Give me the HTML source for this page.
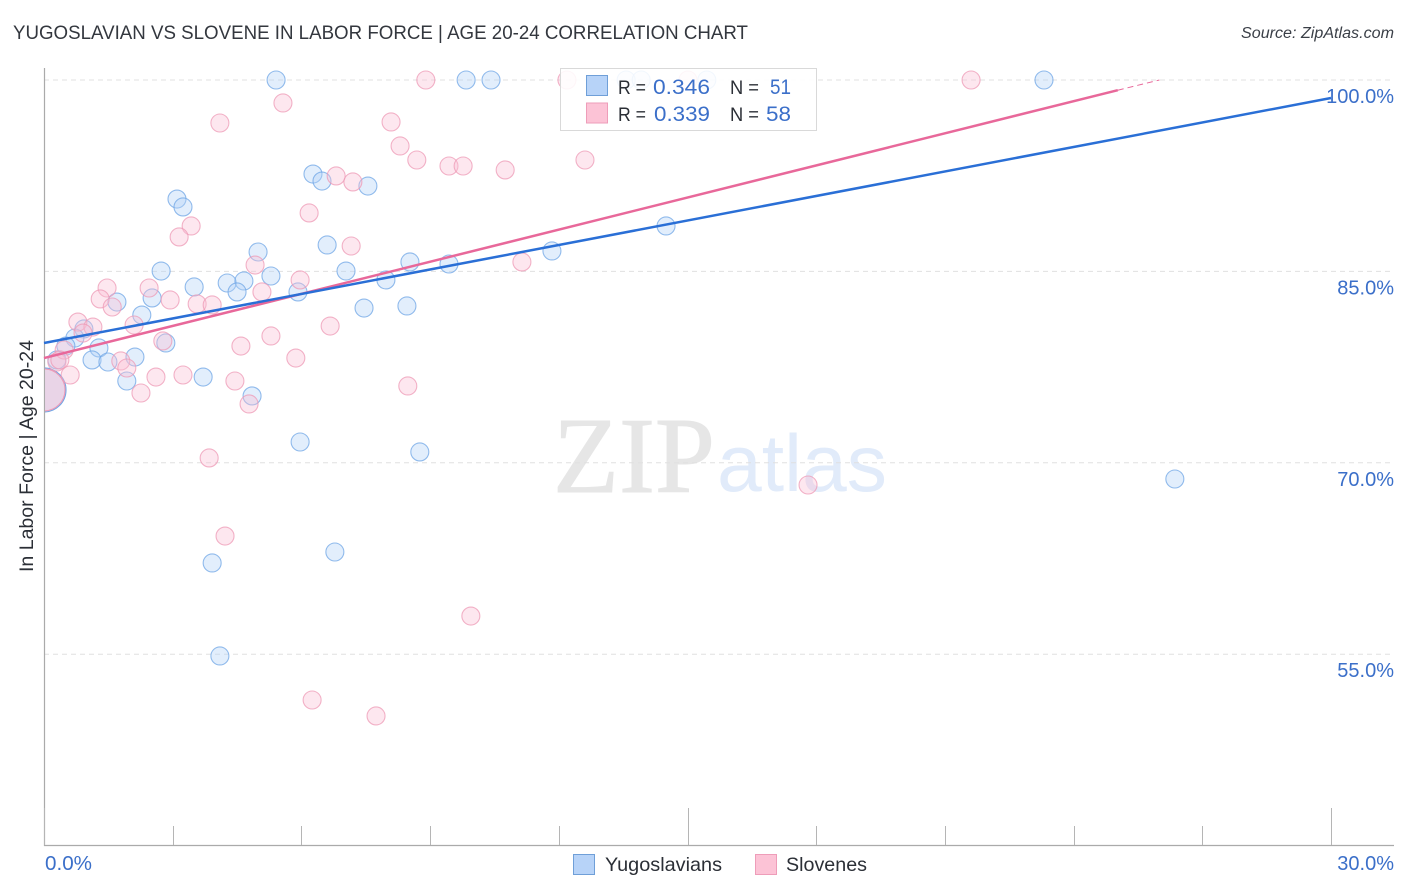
<!DOCTYPE html>
<html lang="en">
<head>
<meta charset="utf-8">
<title>Yugoslavian vs Slovene in Labor Force | Age 20-24 Correlation Chart</title>
<style>
html,body{margin:0;padding:0;background:#fff;}
body{width:1406px;height:892px;overflow:hidden;position:relative;}
svg{display:block;position:absolute;left:0;top:0;}
text{font-family:"Liberation Sans",sans-serif;}
</style>
</head>
<body>
<svg id="chart" width="1406" height="892" viewBox="0 0 1406 892">
  <defs>
    <clipPath id="plot-clip"><rect x="45" y="60" width="1350" height="786"></rect></clipPath>
  </defs>
  <text x="13" y="39" font-size="19.6" fill="#33373e" textLength="735" lengthAdjust="spacingAndGlyphs">YUGOSLAVIAN VS SLOVENE IN LABOR FORCE | AGE 20-24 CORRELATION CHART</text>
  <text x="1241" y="38" font-size="15.5" font-style="italic" fill="#3a3f47" textLength="153" lengthAdjust="spacingAndGlyphs">Source: ZipAtlas.com</text>

  <g>
    <text x="553" y="492" font-size="108" fill="#e6e6e6" stroke="#e6e6e6" stroke-width="1" textLength="162" lengthAdjust="spacingAndGlyphs" style="font-family:'Liberation Serif',serif">ZIP</text>
    <text x="717" y="491" font-size="81" fill="#e1ebfa" textLength="170" lengthAdjust="spacingAndGlyphs">atlas</text>
  </g>

  <g id="grid"></g>
  <g id="axes"></g>
  <g id="points-blue" clip-path="url(#plot-clip)"></g>
  <g id="points-pink" clip-path="url(#plot-clip)"></g>
  <g id="trends"></g>
  <g id="tick-labels"></g>

  <text transform="translate(33,456) rotate(-90)" font-size="19" fill="#2b2f36" text-anchor="middle" textLength="232" lengthAdjust="spacingAndGlyphs">In Labor Force | Age 20-24</text>

  <g>
    <rect x="560.5" y="68.5" width="256" height="62" fill="#fff" fill-opacity="0.88" stroke="#d9d9d9"></rect>
    <rect x="586.5" y="75.5" width="21" height="20" fill="#b7d3f8" stroke="#6f9fd8"></rect>
    <rect x="586.5" y="103" width="21" height="20" fill="#fcc3d6" stroke="#ee9db9"></rect>
    <text x="618" y="94" font-size="19.5" fill="#2b2f36" textLength="28" lengthAdjust="spacingAndGlyphs">R =</text>
    <text x="653" y="94" font-size="21.5" fill="#3b6fc9" textLength="57" lengthAdjust="spacingAndGlyphs">0.346</text>
    <text x="730" y="94" font-size="19.5" fill="#2b2f36" textLength="29" lengthAdjust="spacingAndGlyphs">N =</text>
    <text x="770" y="94" font-size="21.5" fill="#3b6fc9" textLength="21" lengthAdjust="spacingAndGlyphs">51</text>
    <text x="618" y="121" font-size="19.5" fill="#2b2f36" textLength="28" lengthAdjust="spacingAndGlyphs">R =</text>
    <text x="654" y="121" font-size="21.5" fill="#3b6fc9" textLength="56" lengthAdjust="spacingAndGlyphs">0.339</text>
    <text x="730" y="121" font-size="19.5" fill="#2b2f36" textLength="29" lengthAdjust="spacingAndGlyphs">N =</text>
    <text x="766" y="121" font-size="21.5" fill="#3b6fc9" textLength="25" lengthAdjust="spacingAndGlyphs">58</text>
  </g>

  <g>
    <g>
      <rect x="573.5" y="854.5" width="21" height="20" fill="#b7d3f8" stroke="#6f9fd8"></rect>
      <text x="605" y="871" font-size="19.5" fill="#2b2f36" textLength="117" lengthAdjust="spacingAndGlyphs">Yugoslavians</text>
    </g>
    <g>
      <rect x="755.5" y="854.5" width="21" height="20" fill="#fcc3d6" stroke="#ee9db9"></rect>
      <text x="786" y="871" font-size="19.5" fill="#2b2f36" textLength="81" lengthAdjust="spacingAndGlyphs">Slovenes</text>
    </g>
  </g>
</svg>

<script>
const yugoslavianX = [5.41,9.84,10.42,13.57,13.92,15.45,23.31,6.27,6.48,7.55,3.10,3.24,14.50,6.60,4.99,11.84,2.73,7.04,8.53,9.44,5.29,4.27,4.66,7.97,3.50,4.50,5.92,2.52,1.70,7.46,8.46,2.28,0.93,0.72,2.84,0.51,1.28,2.12,1.12,1.49,0.30,3.71,1.93,4.85,5.97,8.76,26.36,6.78,3.92,4.10];
const yugoslavianY = [100,100,100,100,100,100,100,92.63,92.08,91.69,90.67,90.05,88.56,87.07,86.52,86.60,85.03,85.03,85.74,85.58,84.64,84.09,84.25,84.33,83.78,83.39,83.39,82.92,82.60,82.13,82.29,81.58,80.49,79.78,79.39,79.15,79.00,78.29,78.06,77.90,78.06,76.72,76.41,75.24,71.63,70.85,68.73,63.01,62.15,54.86];
const sloveneX = [8.90,12.19,15.01,21.61,5.57,4.10,8.09,8.30,8.69,12.61,9.44,9.77,10.75,6.81,7.20,6.18,3.43,3.15,7.16,11.14,4.92,5.97,1.47,2.45,5.08,1.31,2.94,3.57,3.92,1.59,2.10,6.67,0.79,1.14,5.29,2.77,4.59,5.87,1.79,0.30,1.93,0.61,2.61,3.24,4.45,8.48,2.26,4.78,3.85,17.81,4.22,9.95,6.25,7.74,0.91,0.47,0.37];
const sloveneY = [100,100,100,100,98.20,96.63,96.71,94.83,93.73,93.73,93.26,93.26,92.95,92.48,92.01,89.58,88.56,87.70,86.99,85.74,85.50,84.33,83.70,83.70,83.39,82.84,82.76,82.45,82.37,82.21,80.80,80.72,81.03,80.64,79.94,79.55,79.15,78.21,77.98,77.90,77.43,76.88,76.72,76.88,76.41,76.02,75.47,74.61,70.38,68.26,64.26,57.99,51.41,50.16,80.17,78.84,78.06];
const aggregateX = [0, 0];
const aggregateY = [75.71, 75.71];
const blueTrendX = [0, 30];
const blueTrendY = [79.39, 98.59];
const pinkTrendX = [0, 25.03];
const pinkTrendY = [78.21, 99.20];
const pinkProjectionX = [25.03, 26];
const pinkProjectionY = [99.20, 100];
const yTicks = [100, 85, 70, 55];
const yTickLabels = ["100.0%", "85.0%", "70.0%", "55.0%"];
const xTicks = [0, 3, 6, 9, 12, 15, 18, 21, 24, 27, 30];
const xMajorTicks = [0, 15, 30];
const xEdgeLabels = ["0.0%", "30.0%"];

const NS = "http://www.w3.org/2000/svg";
function xScale(v){ return 44 + v * 42.9; }
function yScale(v){ return 80 + (100 - v) * 12.76; }
function make(parent, tag, attrs){
  const el = document.createElementNS(NS, tag);
  for (const k in attrs) el.setAttribute(k, attrs[k]);
  parent.appendChild(el);
  return el;
}

const gridG = document.getElementById("grid");
const axesG = document.getElementById("axes");
const labelsG = document.getElementById("tick-labels");
const trendsG = document.getElementById("trends");

yTicks.forEach(function(t, i){
  const line = make(gridG, "line", {x1:44, x2:1394, y1:yScale(t), y2:yScale(t), stroke:"#e0e0e0", "stroke-width":1, "stroke-dasharray":"5 4"});
  
  
  const label = make(labelsG, "text", {x:1394, y:yScale(t) + 23, "font-size":20, fill:"#3b6fc9", "text-anchor":"end"});
  label.textContent = yTickLabels[i];
  
  
});

const yAxis = make(axesG, "line", {x1:44.5, x2:44.5, y1:68, y2:846, stroke:"#aaaaaa", "stroke-width":1.2});


const xAxis = make(axesG, "line", {x1:44, x2:1394, y1:845.5, y2:845.5, stroke:"#aaaaaa", "stroke-width":1.2});



xTicks.forEach(function(t){
  const major = xMajorTicks.indexOf(t) >= 0;
  const px = Math.round(xScale(t)) + 0.5;
  const tick = make(axesG, "line", {x1:px, x2:px, y1:major ? 808 : 826, y2:845, stroke:"#b5b5b5", "stroke-width":1});
  
  
});

const xLabelStart = make(labelsG, "text", {x:xScale(0) + 1, y:870, "font-size":20, fill:"#3b6fc9", textLength:47, lengthAdjust:"spacingAndGlyphs"});
xLabelStart.textContent = xEdgeLabels[0];


const xLabelEnd = make(labelsG, "text", {x:1394, y:870, "font-size":20, fill:"#3b6fc9", "text-anchor":"end"});
xLabelEnd.textContent = xEdgeLabels[1];



function drawPoints(groupId, xs, ys, fill, stroke){
  const g = document.getElementById(groupId);
  xs.forEach(function(v, i){
    const c = make(g, "circle", {cx:xScale(v), cy:yScale(ys[i]), r:9, fill:fill, "fill-opacity":0.38, stroke:stroke, "stroke-opacity":0.75, "stroke-width":1.1});
    
    
  });
}
drawPoints("points-blue", yugoslavianX, yugoslavianY, "#b4d2f7", "#6fa6e6");
drawPoints("points-pink", sloveneX, sloveneY, "#f9c0d4", "#ee9ab6");

const blueAgg = make(document.getElementById("points-blue"), "circle", {cx:xScale(aggregateX[0]), cy:yScale(aggregateY[0]), r:22, fill:"#b4d2f7", "fill-opacity":0.5, stroke:"#6fa6e6", "stroke-width":1.1});


const pinkAgg = make(document.getElementById("points-pink"), "circle", {cx:xScale(aggregateX[1]), cy:yScale(aggregateY[1]), r:21, fill:"#f9c0d4", "fill-opacity":0.5, stroke:"#ee9ab6", "stroke-width":1.1});



const pinkProjection = make(trendsG, "line", {x1:xScale(pinkProjectionX[0]), y1:yScale(pinkProjectionY[0]), x2:xScale(pinkProjectionX[1]), y2:yScale(pinkProjectionY[1]), stroke:"#e8689a", "stroke-width":1, "stroke-dasharray":"6 4"});


const pinkTrend = make(trendsG, "line", {x1:xScale(pinkTrendX[0]), y1:yScale(pinkTrendY[0]), x2:xScale(pinkTrendX[1]), y2:yScale(pinkTrendY[1]), stroke:"#e8689a", "stroke-width":2.5});


const blueTrend = make(trendsG, "line", {x1:xScale(blueTrendX[0]), y1:yScale(blueTrendY[0]), x2:xScale(blueTrendX[1]), y2:yScale(blueTrendY[1]), stroke:"#2a6fd6", "stroke-width":2.5});


</script>
</body>
</html>
